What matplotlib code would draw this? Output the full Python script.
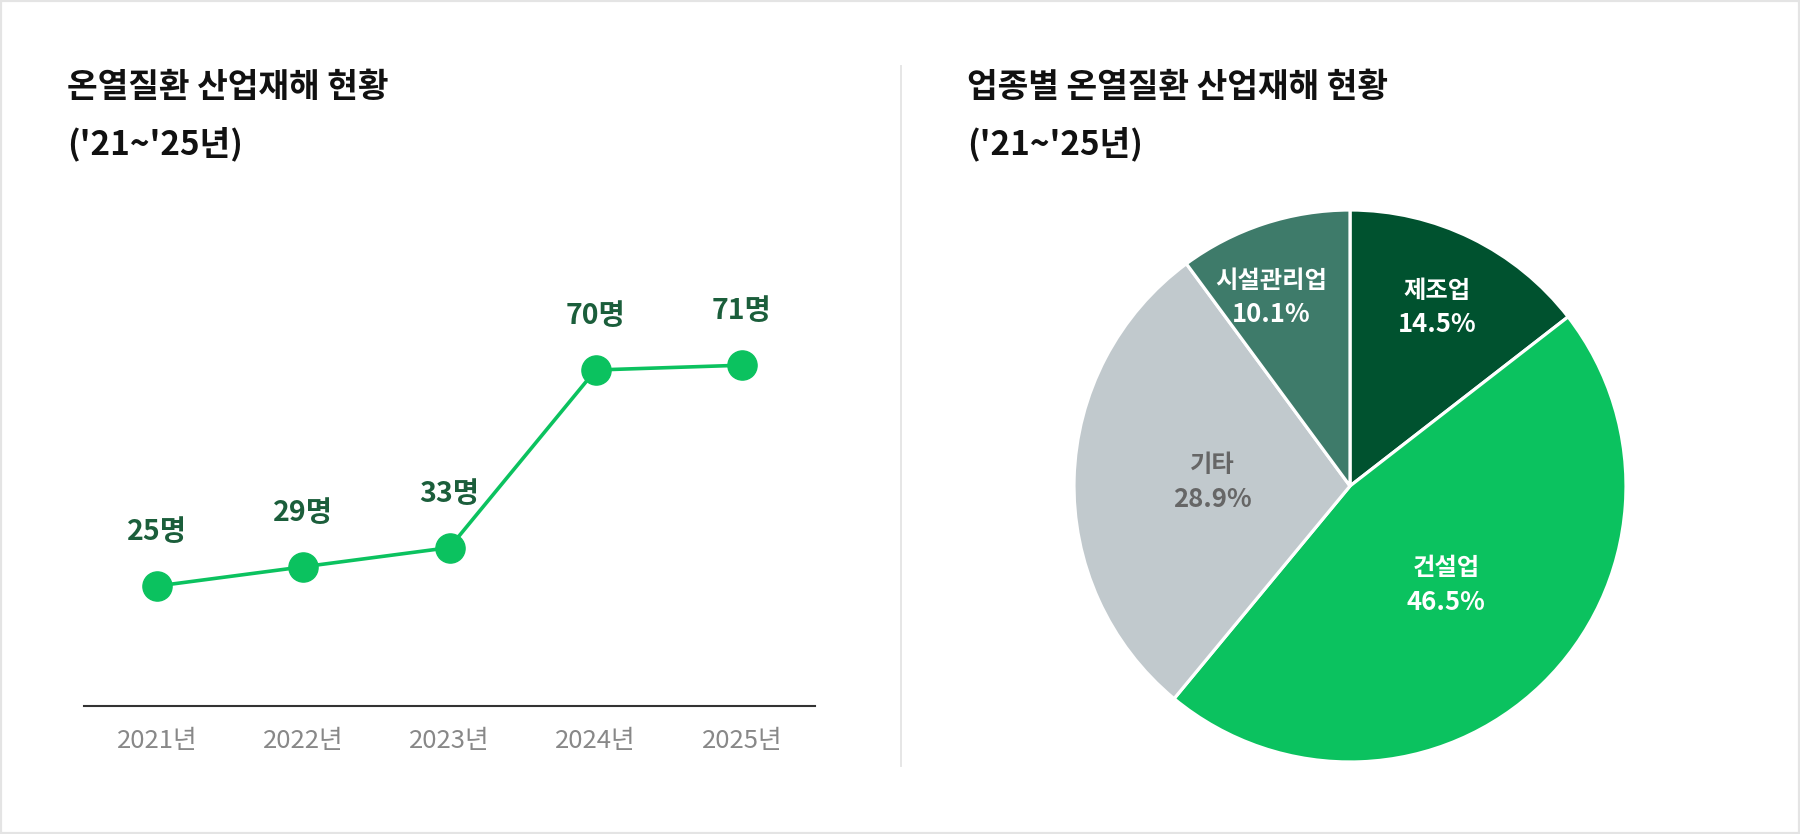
import matplotlib
matplotlib.use("Agg")
import matplotlib.pyplot as plt
from matplotlib.patches import Rectangle
from matplotlib.lines import Line2D
import numpy as np

plt.rcParams['font.family'] = ['Noto Sans CJK KR', 'DejaVu Sans']

# ---- data ----
years = ["2021년", "2022년", "2023년", "2024년", "2025년"]
cases = [25, 29, 33, 70, 71]
line_title = "온열질환 산업재해 현황\n('21~'25년)"

industries = ["제조업", "건설업", "기타", "시설관리업"]
shares = [14.5, 46.5, 28.9, 10.1]
pie_title = "업종별 온열질환 산업재해 현황\n('21~'25년)"

# ---- styles ----
W, H = 1800, 834
fig = plt.figure(figsize=(W / 100, H / 100), dpi=100)
fig.patch.set_facecolor("white")

LINE_COLOR = "#0BC25F"
LABEL_COLOR = "#1B5E3B"
pie_colors = ["#00522F", "#0BC25F", "#C1C9CD", "#3E7B6A"]
pie_text_colors = ["white", "white", "#666666", "white"]
label_dist = [0.72, 0.50, 0.50, 0.74]
label_nudge = [0.0, 0.0, 0.0, 4.5]

def fx(px):
    return px / W

def fy(py):
    return 1 - py / H

# border
fig.add_artist(Rectangle((fx(1), fy(H - 1)), fx(W - 2), 1 - 2 / H, transform=fig.transFigure,
                         fill=False, edgecolor="#E4E4E4", linewidth=1.6))
# separator
fig.add_artist(Line2D([fx(901), fx(901)], [fy(66), fy(766)], transform=fig.transFigure,
                      color="#E6E6E6", linewidth=1.4))

# titles
TITLE_KW = dict(fontsize=24, fontweight="heavy", color="#111111", va="center", ha="left")
t1, t2 = line_title.split("\n")
fig.text(fx(67), fy(88), t1, **TITLE_KW)
fig.text(fx(67), fy(144), t2, **TITLE_KW)
p1, p2 = pie_title.split("\n")
fig.text(fx(967), fy(88), p1, **TITLE_KW)
fig.text(fx(967), fy(144), p2, **TITLE_KW)

# ---- line chart ----
ax = fig.add_axes([fx(84), fy(706), fx(815 - 84), 480 / H])
x = np.arange(len(years))
ax.plot(x, cases, color=LINE_COLOR, linewidth=2.6, marker="o", markersize=21,
        markerfacecolor=LINE_COLOR, markeredgecolor=LINE_COLOR, solid_capstyle="round", zorder=3,
        clip_on=False)
for xi, v in zip(x, cases):
    ax.annotate(f"{v}명", (xi, v), xytext=(0, 54), textcoords="offset pixels",
                ha="center", va="center", fontsize=20.5, fontweight="bold", color=LABEL_COLOR)
ax.set_xlim(-0.5, len(years) - 0.5)
ax.set_ylim(0, 100)
ax.set_xticks(x)
ax.set_xticklabels(years, fontsize=18.5, color="#888888")
ax.tick_params(axis="x", length=0, pad=16)
ax.set_yticks([])
for s in ["top", "right", "left"]:
    ax.spines[s].set_visible(False)
ax.spines["bottom"].set_color("#333333")
ax.spines["bottom"].set_linewidth(1.5)
ax.set_facecolor("none")

# ---- pie chart ----
R = 276
side = R * 1.25 * 2
cx, cy = 1350, 486
pax = fig.add_axes([fx(cx - side / 2), fy(cy + side / 2), side / W, side / H])
wedges, _ = pax.pie(shares, colors=pie_colors, startangle=90, counterclock=False,
                    wedgeprops=dict(edgecolor="white", linewidth=2.3))
pax.set_xlim(-1.25, 1.25)
pax.set_ylim(-1.25, 1.25)
pax.set_aspect("equal")
for w, name, val, tc, d, nd in zip(wedges, industries, shares, pie_text_colors, label_dist, label_nudge):
    ang = np.deg2rad((w.theta1 + w.theta2) / 2 + nd)
    px, py = d * np.cos(ang), d * np.sin(ang)
    pax.annotate(name, (px, py), xytext=(0, 17), textcoords="offset pixels", ha="center", va="center",
                 fontsize=17.5, fontweight="bold", color=tc)
    pax.annotate(f"{val:.1f}%", (px, py), xytext=(0, -17), textcoords="offset pixels", ha="center",
                 va="center", fontsize=18.5, fontweight="bold", color=tc)

fig.savefig("out.png", dpi=100, facecolor="white")
